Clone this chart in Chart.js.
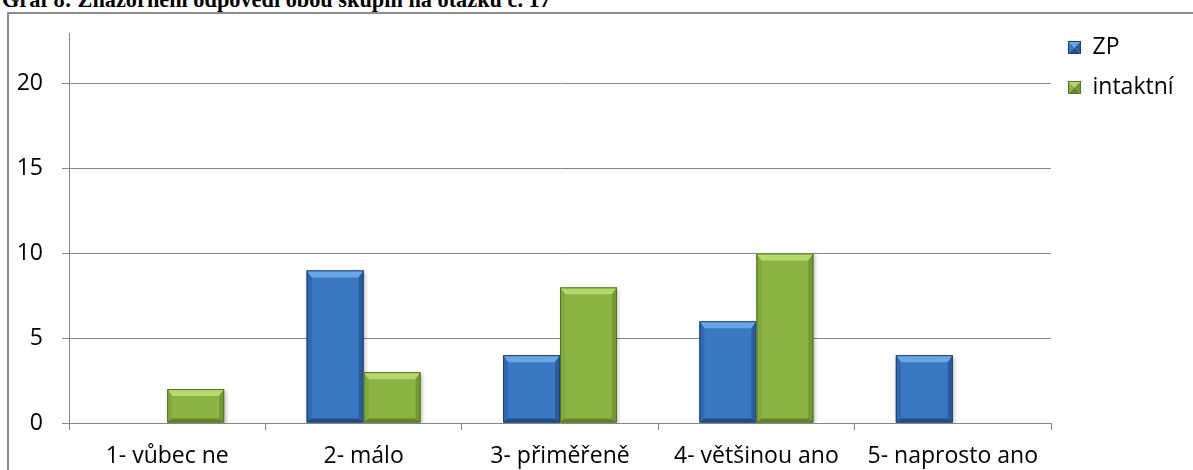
<!DOCTYPE html>
<html>
<head>
<meta charset="utf-8">
<script src="https://cdn.jsdelivr.net/npm/chart.js@4/dist/chart.umd.min.js"></script>
<style>
  body { margin: 0; width: 1193px; height: 470px; overflow: hidden; position: relative; background: #fff; }
  #title { position: absolute; left: 2px; top: -11px; font: bold 22.3px "Liberation Serif", "Times New Roman", serif; line-height: 1; white-space: nowrap; color: #000; }
  #frame { position: absolute; left: 7px; top: 12px; width: 1300px; height: 600px; border: 2px solid #8c8c8c; }
  #wrap { position: absolute; left: 0; top: 0; width: 1193px; height: 470px; }
</style>
</head>
<body>
<div id="title">Graf 8: Znázornění odpovědí obou skupin na otázku č. 17</div>
<div id="frame"></div>
<div id="wrap"><canvas id="chart" width="1193" height="470"></canvas></div>
<script>
// data
const categories = ['1- vůbec ne', '2- málo', '3- přiměřeně', '4- většinou ano', '5- naprosto ano'];
const seriesNames = ['ZP', 'intaktní'];
const zpValues = [0, 9, 4, 6, 4];
const intaktniValues = [2, 3, 8, 10, 0];
const yTicks = [0, 5, 10, 15, 20];

// bevel shades per series
const shades = [
  { face: '#3a77c2', top: '#6aa6e6', left: '#3068b0', right: '#2a5c9c', bottom: '#234f88', edge: '#1f4170' },
  { face: '#8cb444', top: '#b5d96a', left: '#80a83b', right: '#739834', bottom: '#64842b', edge: '#55702a' }
];

function poly(ctx, pts, fill) {
  ctx.beginPath();
  ctx.moveTo(pts[0][0], pts[0][1]);
  for (let i = 1; i < pts.length; i++) ctx.lineTo(pts[i][0], pts[i][1]);
  ctx.closePath();
  ctx.fillStyle = fill;
  ctx.fill();
}

function legendSquare(tone) {
  const c = document.createElement('canvas');
  c.width = 13; c.height = 13;
  const g = c.getContext('2d');
  const m = 6.5;
  poly(g, [[0, 0], [13, 0], [m, m]], tone.top);
  poly(g, [[0, 0], [m, m], [0, 13]], tone.face);
  poly(g, [[13, 0], [13, 13], [m, m]], tone.right);
  poly(g, [[0, 13], [m, m], [13, 13]], tone.bottom);
  g.strokeStyle = tone.edge;
  g.lineWidth = 1;
  g.strokeRect(0.5, 0.5, 12, 12);
  return c;
}
const legendIcons = shades.map(legendSquare);

const bevelPlugin = {
  id: 'bevel',
  beforeDatasetsDraw(chart) {
    const ctx = chart.ctx;
    ctx.save();
    ctx.shadowColor = 'rgba(0,0,0,0.28)';
    ctx.shadowBlur = 4;
    ctx.shadowOffsetX = 1.5;
    ctx.shadowOffsetY = 1.5;
  },
  afterDatasetsDraw(chart) {
    const ctx = chart.ctx;
    ctx.restore();
    ctx.save();
    chart.data.datasets.forEach((ds, di) => {
      const tone = shades[di];
      chart.getDatasetMeta(di).data.forEach(bar => {
        const { x, y, base, width } = bar.getProps(['x', 'y', 'base', 'width'], true);
        const h = base - y;
        if (h < 1) return;
        const l = x - width / 2, r = x + width / 2;
        const t = Math.min(7, h / 2), s = 5, b = Math.min(4, h / 4);
        poly(ctx, [[l, y], [r, y], [r - s, y + t], [l + s, y + t]], tone.top);
        poly(ctx, [[l, y], [l + s, y + t], [l + s, base - b], [l, base]], tone.left);
        poly(ctx, [[r, y], [r, base], [r - s, base - b], [r - s, y + t]], tone.right);
        poly(ctx, [[l, base], [l + s, base - b], [r - s, base - b], [r, base]], tone.bottom);
        ctx.strokeStyle = tone.edge;
        ctx.lineWidth = 1;
        ctx.strokeRect(l + 0.5, y + 0.5, width - 1, h - 1);
      });
    });
    ctx.restore();
  }
};

// legend has a fixed column width so the plot ends where it does in the original
const legendWidthPlugin = {
  id: 'legendWidth',
  beforeLayout(chart) {
    const lg = chart.legend;
    if (lg && !lg._patched) {
      const fit = lg.fit;
      lg.fit = function () { fit.call(this); this.width = 142; this.right = this.left + 142; };
      lg._patched = true;
    }
  }
};

const gridColor = '#868686';
const tickFont = { family: '"Open Sans", Lato, sans-serif', size: 23 };

new Chart('chart', {
  type: 'bar',
  data: {
    labels: categories,
    datasets: [
      { label: seriesNames[0], data: zpValues, backgroundColor: shades[0].face, borderWidth: 0 },
      { label: seriesNames[1], data: intaktniValues, backgroundColor: shades[1].face, borderWidth: 0 }
    ]
  },
  options: {
    responsive: false,
    animation: false,
    devicePixelRatio: 1,
    categoryPercentage: 0.58,
    barPercentage: 1.0,
    layout: { padding: { top: 19, left: 0, right: 0, bottom: 0 } },
    plugins: {
      tooltip: { enabled: false },
      legend: {
        position: 'right',
        align: 'start',
        labels: {
          color: '#000',
          font: tickFont,
          padding: 17,
          boxWidth: 13,
          boxHeight: 13,
          usePointStyle: true,
          generateLabels(chart) {
            return Chart.defaults.plugins.legend.labels.generateLabels(chart).map((item, i) => {
              item.pointStyle = legendIcons[i];
              return item;
            });
          }
        }
      }
    },
    scales: {
      x: {
        grid: { display: true, drawOnChartArea: false, color: gridColor, tickLength: 7, offset: true },
        border: { display: true, color: gridColor },
        ticks: { color: '#000', font: tickFont, padding: 13, maxRotation: 0, autoSkip: false },
        afterFit(scale) { scale.height = 47; }
      },
      y: {
        min: 0,
        max: 23,
        grid: { color: gridColor, tickLength: 7 },
        border: { display: true, color: gridColor },
        ticks: { color: '#000', font: tickFont, padding: 19, stepSize: 5 },
        afterBuildTicks(scale) { scale.ticks = yTicks.map(v => ({ value: v })); },
        afterFit(scale) { scale.width = 69; scale.paddingTop = 33; }
      }
    }
  },
  plugins: [bevelPlugin, legendWidthPlugin]
});
</script>
</body>
</html>
